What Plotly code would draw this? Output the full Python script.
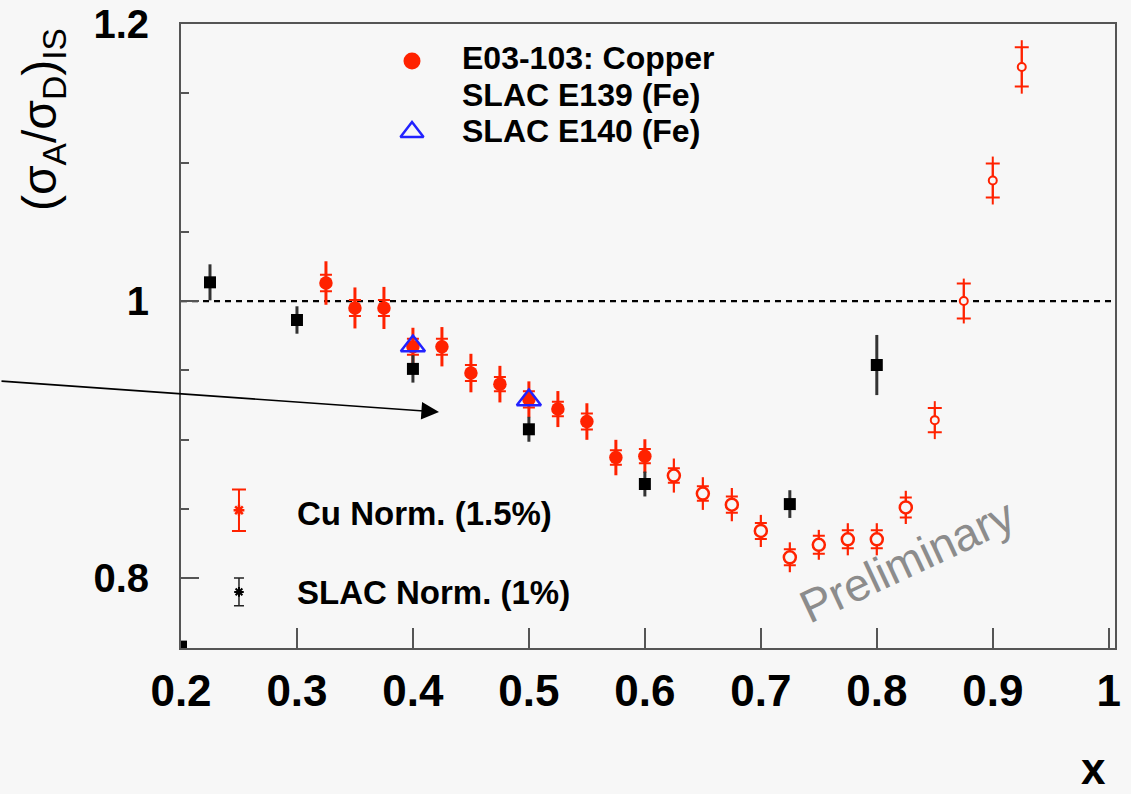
import plotly.graph_objects as go

# ---- E03-103 copper, x < 0.6 (filled markers) ----
cu_x = [0.325, 0.35, 0.375, 0.4, 0.425, 0.45, 0.475, 0.5, 0.525, 0.55, 0.575, 0.6]
cu_y = [1.013, 0.995, 0.995, 0.967, 0.967, 0.948, 0.940, 0.929, 0.922, 0.913, 0.887, 0.888]
cu_err = [0.0157, 0.0148, 0.0152, 0.0137, 0.0142, 0.0139, 0.0132, 0.0130, 0.0130, 0.0132, 0.0128, 0.0122]
cu_sys = [0.0060, 0.0058, 0.0058, 0.0058, 0.0058, 0.0058, 0.0052, 0.0058, 0.0052, 0.0058, 0.0052, 0.0052]

# ---- E03-103 copper, 0.625 <= x <= 0.825 (open markers) ----
cu_x_open = [0.625, 0.65, 0.675, 0.7, 0.725, 0.75, 0.775, 0.8, 0.825]
cu_y_open = [0.874, 0.861, 0.853, 0.834, 0.815, 0.824, 0.828, 0.828, 0.851]
cu_err_open = [0.0123, 0.0118, 0.0120, 0.0116, 0.0108, 0.0108, 0.0116, 0.0116, 0.0120]
cu_sys_open = [0.0052, 0.0052, 0.0058, 0.0058, 0.0058, 0.0065, 0.0065, 0.0065, 0.0072]

# ---- E03-103 copper, x >= 0.85 (small open markers) ----
cu_x_high = [0.85, 0.875, 0.9, 0.925]
cu_y_high = [0.914, 1.000, 1.087, 1.169]
cu_err_high = [0.0137, 0.0162, 0.0173, 0.0193]
cu_sys_high = [0.0087, 0.0126, 0.0123, 0.0142]

# ---- SLAC E139 (Fe) ----
e139_x = [0.2, 0.225, 0.3, 0.4, 0.5, 0.6, 0.725, 0.8]
e139_y = [0.7505, 1.0135, 0.9863, 0.951, 0.9074, 0.8679, 0.8534, 0.9538]
e139_err = [0.0, 0.0130, 0.0099, 0.0099, 0.0090, 0.0090, 0.0100, 0.0217]

# ---- SLAC E140 (Fe) ----
e140_x = [0.4, 0.5]
e140_y = [0.9675, 0.9285]

# ---- normalisation uncertainties ----
norm_x = [0.25]
cu_norm_y = [0.849]
cu_norm_err = [0.015]
slac_norm_y = [0.79]
slac_norm_err = [0.010]

x_ticks = [0.2, 0.3, 0.4, 0.5, 0.6, 0.7, 0.8, 0.9, 1.0]
x_ticktext = ["0.2", "0.3", "0.4", "0.5", "0.6", "0.7", "0.8", "0.9", "1"]
y_ticks = [0.8, 1.0, 1.2]
y_ticktext = ["0.8", "1", "1.2"]

RED = "#ff2200"
BLUE = "#2222ff"
BG = "#f7f7f7"
AXIS = "#555555"
FONT = "Liberation Sans, Arial, Helvetica, sans-serif"

# frame geometry (pixels)
W, H = 1131, 794
L, R, T, B = 181, 16, 24, 146
PW, PH = W - L - R, H - T - B


def px(x):
    return (x - L) / PW


def py(y):
    return (H - B - y) / PH


fig = go.Figure()


def caps(x, y, sys, width):
    # systematic part: short cross-bars only
    return go.Scatter(
        x=x, y=y, mode="markers", hoverinfo="skip", showlegend=False,
        marker=dict(size=1, color="rgba(0,0,0,0)"),
        error_y=dict(type="data", array=sys, visible=True, color=RED,
                     thickness=2, width=width),
    )


# filled copper points
fig.add_trace(caps(cu_x, cu_y, cu_sys, 6))
fig.add_trace(go.Scatter(
    x=cu_x, y=cu_y, mode="markers", showlegend=False,
    marker=dict(symbol="circle", size=13.5, color=RED),
    error_y=dict(type="data", array=cu_err, color=RED, thickness=3, width=0),
))

# open copper points
fig.add_trace(caps(cu_x_open, cu_y_open, cu_sys_open, 6))
fig.add_trace(go.Scatter(
    x=cu_x_open, y=cu_y_open, mode="markers", showlegend=False,
    marker=dict(symbol="circle", size=12, color=BG, line=dict(color=RED, width=2.5)),
    error_y=dict(type="data", array=cu_err_open, color=RED, thickness=2.2, width=0),
))

# high-x copper points
fig.add_trace(caps(cu_x_high, cu_y_high, cu_sys_high, 7))
fig.add_trace(go.Scatter(
    x=cu_x_high, y=cu_y_high, mode="markers", showlegend=False,
    marker=dict(symbol="circle", size=8, color=BG, line=dict(color=RED, width=2)),
    error_y=dict(type="data", array=cu_err_high, color=RED, thickness=2, width=0),
))

# SLAC E139
fig.add_trace(go.Scatter(
    x=e139_x, y=e139_y, mode="markers", showlegend=False,
    marker=dict(symbol="square", size=12, color="black"),
    error_y=dict(type="data", array=e139_err, color="#333333", thickness=3, width=0),
))

# SLAC E140
fig.add_trace(go.Scatter(
    x=e140_x, y=e140_y, mode="markers", showlegend=False,
    marker=dict(symbol="triangle-up-open", size=21, color=BLUE, line=dict(color=BLUE, width=2.5)),
))

# normalisation bars
fig.add_trace(go.Scatter(
    x=norm_x, y=cu_norm_y, mode="markers", showlegend=False,
    marker=dict(symbol="asterisk-open", size=9, color=RED, line=dict(color=RED, width=2.5)),
    error_y=dict(type="data", array=cu_norm_err, color=RED, thickness=2, width=7),
))
fig.add_trace(go.Scatter(
    x=norm_x, y=slac_norm_y, mode="markers", showlegend=False,
    marker=dict(symbol="asterisk-open", size=8, color="black", line=dict(color="black", width=2)),
    error_y=dict(type="data", array=slac_norm_err, color="#222222", thickness=1.5, width=5),
))

# key symbols for the dataset labels (pixel-space overlay axes)
fig.add_trace(go.Scatter(
    x=[412], y=[61], xaxis="x2", yaxis="y2", mode="markers", showlegend=False,
    marker=dict(symbol="circle", size=17, color=RED), cliponaxis=False,
))
fig.add_trace(go.Scatter(
    x=[412], y=[132], xaxis="x2", yaxis="y2", mode="markers", showlegend=False,
    marker=dict(symbol="triangle-up-open", size=20, color=BLUE, line=dict(color=BLUE, width=2.5)),
    cliponaxis=False,
))

annotations = []


def label(text, x, y, size, bold=True, color="black", anchor="left", angle=0):
    annotations.append(dict(
        text=text, xref="paper", yref="paper", x=px(x), y=py(y), showarrow=False,
        xanchor=anchor, yanchor="middle", textangle=angle,
        font=dict(family=FONT, size=size, color=color, weight="bold" if bold else "normal"),
    ))


label("E03-103: Copper", 460, 58, 32)
label("SLAC E139 (Fe)", 460, 95, 32)
label("SLAC E140 (Fe)", 460, 131, 32)
label("Cu Norm. (1.5%)", 295, 513, 33)
label("SLAC Norm. (1%)", 295, 592, 33)
label("Preliminary", 907, 561, 46, bold=False, color="#8c8c8c", anchor="center", angle=-25)
label("x", 1093, 768, 44, anchor="center")
label("(σ<sub>A</sub>/σ<sub>D</sub>)<sub>IS</sub>", 43, 120, 48, bold=False, anchor="center", angle=-90)

# pointer arrow (tail given as pixel offset from the head)
annotations.append(dict(
    xref="paper", yref="paper", x=px(439), y=py(412), ax=-439, ay=-31,
    axref="pixel", ayref="pixel",
    text="", showarrow=True, arrowhead=2, arrowsize=2.2, arrowwidth=1.6, arrowcolor="black",
))

fig.update_layout(
    width=W, height=H,
    margin=dict(l=L, r=R, t=T, b=B, autoexpand=False),
    paper_bgcolor=BG, plot_bgcolor=BG,
    showlegend=False,
    font=dict(family=FONT, color="black"),
    annotations=annotations,
    shapes=[dict(type="line", xref="paper", yref="y", x0=0, x1=1, y0=1.0, y1=1.0,
                 line=dict(color="black", width=2.2, dash="6px,5px"), layer="below")],
    xaxis=dict(
        range=[0.2, 1.0054], tickvals=x_ticks, ticktext=x_ticktext,
        ticks="inside", ticklen=20, tickwidth=2, tickcolor=AXIS,
        showline=True, linecolor=AXIS, linewidth=2, mirror=True,
        showgrid=False, zeroline=False, automargin=False,
        tickfont=dict(family=FONT, size=44, color="black", weight="bold"),
        ticklabelstandoff=3,
    ),
    yaxis=dict(
        range=[0.7495, 1.2], tickvals=y_ticks, ticktext=y_ticktext,
        ticks="inside", ticklen=18, tickwidth=2, tickcolor=AXIS,
        minor=dict(dtick=0.05, ticks="inside", ticklen=8, tickwidth=2, tickcolor=AXIS),
        showline=True, linecolor=AXIS, linewidth=2, mirror=True,
        showgrid=False, zeroline=False, automargin=False,
        tickfont=dict(family=FONT, size=40, color="black", weight="bold"),
        ticklabelstandoff=22,
    ),
    xaxis2=dict(overlaying="x", range=[L, W - R], visible=False, fixedrange=True),
    yaxis2=dict(overlaying="y", range=[H - B, T], visible=False, fixedrange=True),
)

fig.write_html("out.html")
